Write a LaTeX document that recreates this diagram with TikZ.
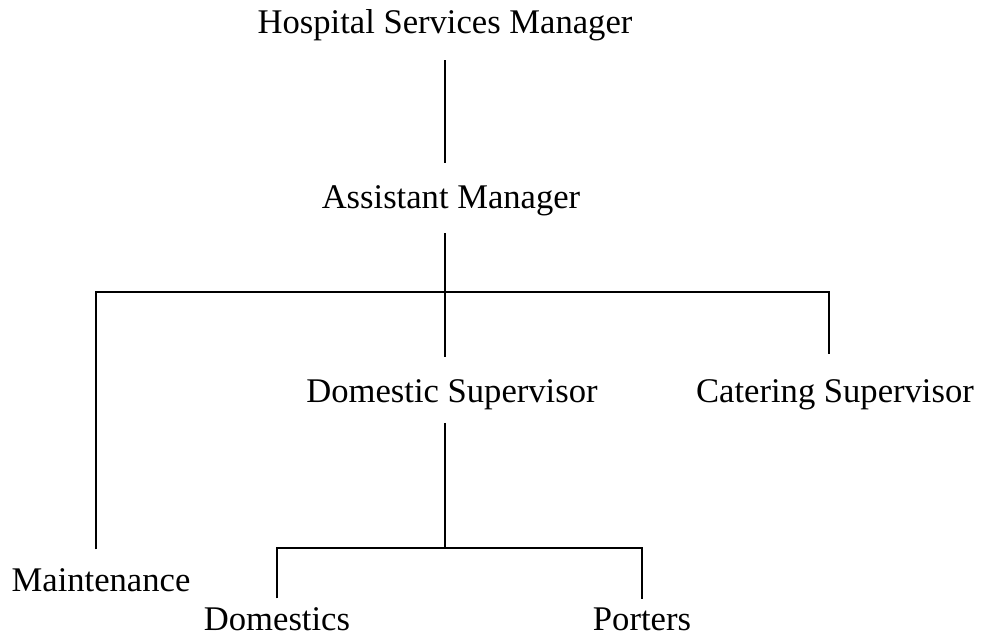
\documentclass[tikz,border=0pt]{standalone}
\usepackage{fontspec}
\setmainfont{Liberation Serif}
\begin{document}
\begin{tikzpicture}[x=0.5pt, y=-0.5pt, line width=0.6pt,
    post/.style={anchor=base, inner xsep=0pt, inner ysep=11pt, font=\fontsize{17.3}{20}\selectfont}]
    \useasboundingbox (0,0) rectangle (982,640);
    \node[post] (hsm) at (445,34) {Hospital Services Manager};
    \node[post] (am)  at (451,209) {Assistant Manager};
    \node[post] (ds)  at (452,403) {Domestic Supervisor};
    \node[post] (cat) at (835,403) {Catering Supervisor};
    \node[post] (mnt) at (101,592) {Maintenance};
    \node[post] (dom) at (277,631) {Domestics};
    \node[post] (por) at (642,631) {Porters};
    \coordinate (split1) at (445,292);
    \coordinate (split2) at (445,548);
    \draw[shorten <=-2pt] (hsm) -- (hsm |- am.north);
    \draw[shorten <=-3pt] (split1 |- am.south) -- (split1);
    \draw[shorten <=-1.5pt] ([xshift=-2.5pt]mnt.north) |- (split1) -| ([xshift=-3pt,yshift=1.5pt]cat.north);
    \draw (split1) -- (split1 |- ds.north);
    \draw[shorten <=-5pt] (split2 |- ds.south) -- (split2);
    \draw[shorten <=-6.5pt, shorten >=-6.5pt] (dom.north) |- (split2) -| (por.north);
  \end{tikzpicture}
\end{document}
